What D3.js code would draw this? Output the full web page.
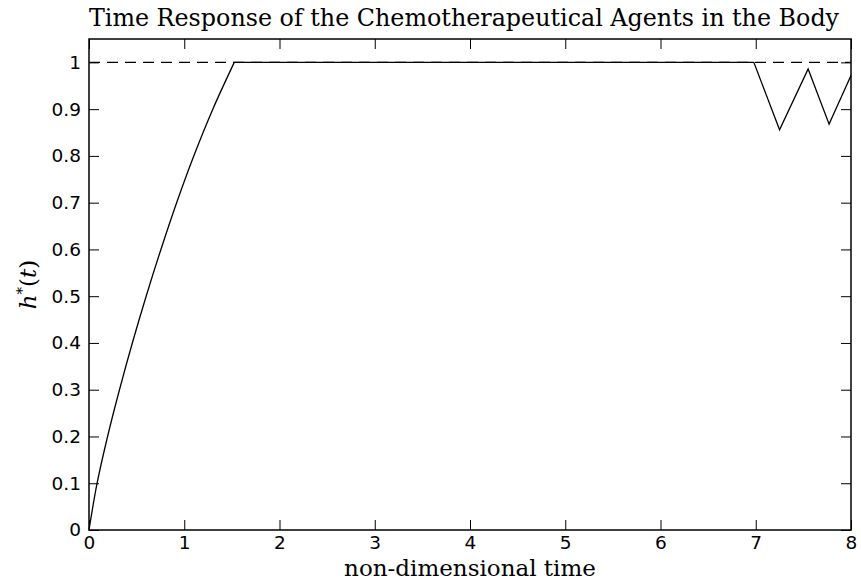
<!DOCTYPE html>
<html>
<head>
<meta charset="utf-8">
<script src="https://cdn.jsdelivr.net/npm/d3@7"></script>
<style>
  body { margin: 0; background: #fff; }
  svg { display: block; }
</style>
</head>
<body>
<svg width="861" height="586"></svg>
<script>
// values
var riseT = [0, 0.085, 0.195, 0.32, 0.455, 0.60, 0.755, 0.92, 1.10, 1.30, 1.525];
var riseH = [0, 0.1, 0.2, 0.3, 0.4, 0.5, 0.6, 0.7, 0.8, 0.9, 1];
var tailT = [1.525, 6.98, 7.25, 7.55, 7.77, 8];
var tailH = [1, 1, 0.856, 0.986, 0.868, 0.972];
var xTicks = [0, 1, 2, 3, 4, 5, 6, 7, 8];
var yTicks = [0, 0.1, 0.2, 0.3, 0.4, 0.5, 0.6, 0.7, 0.8, 0.9, 1];
var refLevel = 1;

var margin = {left: 89, right: 10, top: 39, bottom: 56};
var width = 861, height = 586;

var svg = d3.select("svg");

var x = d3.scaleLinear().domain([0, 8]).range([margin.left, width - margin.right]);
var y = d3.scaleLinear().domain([0, 1.05]).range([height - margin.bottom, margin.top]);

var serif = "'DejaVu Serif', 'Liberation Serif', serif";
var sans = "'DejaVu Sans', 'Liberation Sans', Arial, sans-serif";

// reference dashed line
svg.append("line")
  .attr("x1", x(0)).attr("x2", x(8))
  .attr("y1", y(refLevel)).attr("y2", y(refLevel))
  .attr("stroke", "#000").attr("stroke-width", 1.1)
  .attr("stroke-dasharray", "11,7");

// response curve
var rise = riseT.map(function(t, i) { return [t, riseH[i]]; });
var tail = tailT.map(function(t, i) { return [t, tailH[i]]; });

svg.append("path")
  .attr("d", d3.line().x(function(d){ return x(d[0]); }).y(function(d){ return y(d[1]); })
    .curve(d3.curveMonotoneY)(rise))
  .attr("fill", "none").attr("stroke", "#000").attr("stroke-width", 1.3);

svg.append("path")
  .attr("d", d3.line().x(function(d){ return x(d[0]); }).y(function(d){ return y(d[1]); })(tail))
  .attr("fill", "none").attr("stroke", "#000").attr("stroke-width", 1.3)
  .attr("stroke-linejoin", "miter");

// axes, matlab style: ticks inside, on all four sides
var axB = svg.append("g").attr("transform", "translate(0," + y(0) + ")")
  .call(d3.axisBottom(x).tickValues(xTicks).tickSize(-10).tickPadding(6).tickFormat(d3.format("d")));
var axT = svg.append("g").attr("transform", "translate(0," + margin.top + ")")
  .call(d3.axisTop(x).tickValues(xTicks).tickSize(-10).tickFormat(""));
var axL = svg.append("g").attr("transform", "translate(" + margin.left + ",0)")
  .call(d3.axisLeft(y).tickValues(yTicks).tickSize(-10).tickPadding(8).tickFormat(function(d){ return d3.format("")(d); }));
var axR = svg.append("g").attr("transform", "translate(" + (width - margin.right) + ",0)")
  .call(d3.axisRight(y).tickValues(yTicks).tickSize(-10).tickFormat(""));

[axB, axT, axL, axR].forEach(function(g) {
  g.select(".domain").remove();
  g.attr("font-size", 18.5).attr("font-family", sans);
  g.selectAll(".tick line").attr("stroke", "#000").attr("stroke-width", 1);
  g.selectAll(".tick text").attr("fill", "#000");
});
svg.append("rect")
  .attr("x", x(0)).attr("y", y(1.05))
  .attr("width", x(8) - x(0)).attr("height", y(0) - y(1.05))
  .attr("fill", "none").attr("stroke", "#000").attr("stroke-width", 1.5);

// texts
svg.append("text")
  .attr("x", (x(0) + x(8)) / 2 - 6).attr("y", 26)
  .attr("text-anchor", "middle")
  .style("font-family", serif).style("font-size", "23.8px")
  .text("Time Response of the Chemotherapeutical Agents in the Body");

svg.append("text")
  .attr("x", (x(0) + x(8)) / 2).attr("y", 576)
  .attr("text-anchor", "middle")
  .style("font-family", serif).style("font-size", "23px")
  .text("non-dimensional time");

var yl = svg.append("text")
  .attr("transform", "translate(36," + (margin.top + (y(0) - margin.top) / 2) + ") rotate(-90)")
  .attr("text-anchor", "middle")
  .style("font-family", serif).style("font-size", "23px").style("font-style", "italic");
yl.append("tspan").text("h");
yl.append("tspan").attr("dy", -9).style("font-size", "15px").style("font-style", "normal").text("*");
yl.append("tspan").attr("dy", 9).style("font-style", "normal").text("(");
yl.append("tspan").text("t");
yl.append("tspan").style("font-style", "normal").text(")");
</script>
</body>
</html>
